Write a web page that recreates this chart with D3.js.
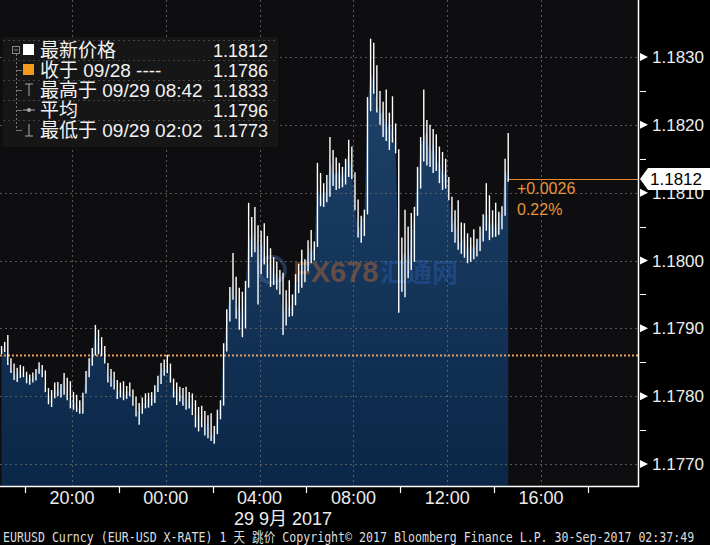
<!DOCTYPE html>
<html><head><meta charset="utf-8">
<script src="https://cdn.jsdelivr.net/npm/d3@7"></script>
<style>html,body{margin:0;padding:0;background:#000;}svg{display:block}</style>
</head><body><svg id="c" width="710" height="545"></svg>
<script>
// ---- data (EURUSD, 8-minute bars) ----
const high = [
1.17874,1.17880,1.17890,1.17856,1.17848,1.17842,1.17846,1.17844,1.17836,1.17832,
1.17835,1.17840,1.17850,1.17846,1.17838,1.17812,1.17809,1.17820,1.17821,1.17818,
1.17834,1.17827,1.17822,1.17806,1.17802,1.17794,1.17805,1.17837,1.17856,1.17871,
1.17905,1.17898,1.17887,1.17874,1.17849,1.17840,1.17836,1.17824,1.17820,1.17822,
1.17815,1.17820,1.17810,1.17799,1.17790,1.17798,1.17804,1.17805,1.17806,1.17816,
1.17830,1.17849,1.17854,1.17861,1.17848,1.17826,1.17820,1.17814,1.17812,1.17814,
1.17806,1.17804,1.17794,1.17784,1.17786,1.17778,1.17772,1.17775,1.17756,1.17780,
1.17794,1.17878,1.17928,1.17961,1.18011,1.17976,1.17960,1.17954,1.17970,1.18085,
1.18064,1.18079,1.18052,1.18044,1.18055,1.18036,1.18018,1.18005,1.17998,1.17986,
1.17982,1.17956,1.17971,1.17950,1.17980,1.17995,1.18016,1.18002,1.18030,1.18045,
1.18028,1.18144,1.18129,1.18114,1.18126,1.18182,1.18163,1.18152,1.18144,1.18138,
1.18150,1.18178,1.18168,1.18130,1.18090,1.18066,1.18075,1.18241,1.18327,1.18321,
1.18288,1.18250,1.18234,1.18252,1.18218,1.18242,1.18202,1.18164,1.18034,1.18075,
1.18050,1.18070,1.18079,1.18138,1.18182,1.18252,1.18207,1.18200,1.18194,1.18186,
1.18168,1.18160,1.18150,1.18123,1.18094,1.18074,1.18089,1.18056,1.18055,1.18040,
1.18034,1.18046,1.18032,1.18050,1.18068,1.18114,1.18096,1.18074,1.18085,1.18072,
1.18080,1.18150,1.18188];
const low = [
1.17862,1.17865,1.17846,1.17834,1.17824,1.17821,1.17827,1.17828,1.17819,1.17817,
1.17820,1.17823,1.17833,1.17828,1.17806,1.17788,1.17784,1.17797,1.17800,1.17798,
1.17802,1.17794,1.17782,1.17780,1.17777,1.17774,1.17774,1.17804,1.17828,1.17845,
1.17860,1.17862,1.17860,1.17848,1.17820,1.17814,1.17810,1.17796,1.17798,1.17794,
1.17796,1.17800,1.17786,1.17770,1.17758,1.17774,1.17782,1.17783,1.17786,1.17790,
1.17806,1.17818,1.17830,1.17834,1.17820,1.17798,1.17787,1.17792,1.17786,1.17780,
1.17782,1.17772,1.17754,1.17748,1.17754,1.17742,1.17738,1.17734,1.17730,1.17744,
1.17766,1.17786,1.17866,1.17910,1.17942,1.17914,1.17898,1.17887,1.17900,1.17960,
1.18005,1.18012,1.17935,1.17980,1.17994,1.17974,1.17961,1.17964,1.17957,1.17950,
1.17890,1.17904,1.17917,1.17918,1.17934,1.17952,1.17960,1.17968,1.17984,1.17996,
1.18000,1.18020,1.18080,1.18079,1.18086,1.18094,1.18110,1.18104,1.18106,1.18108,
1.18112,1.18123,1.18120,1.18074,1.18034,1.18026,1.18036,1.18068,1.18220,1.18246,
1.18218,1.18200,1.18182,1.18176,1.18163,1.18174,1.18158,1.17923,1.17954,1.17946,
1.17974,1.17986,1.17998,1.18066,1.18106,1.18146,1.18140,1.18138,1.18129,1.18132,
1.18114,1.18104,1.18106,1.18089,1.18042,1.18026,1.18016,1.18010,1.18004,1.17996,
1.17998,1.18002,1.18006,1.18014,1.18028,1.18044,1.18030,1.18034,1.18035,1.18038,
1.18046,1.18066,1.18116];
const close = [
1.17868,1.17872,1.17852,1.17840,1.17835,1.17830,1.17840,1.17832,1.17825,1.17828,
1.17824,1.17836,1.17844,1.17834,1.17810,1.17796,1.17798,1.17812,1.17806,1.17815,
1.17826,1.17800,1.17790,1.17794,1.17786,1.17780,1.17802,1.17830,1.17850,1.17866,
1.17892,1.17870,1.17866,1.17852,1.17826,1.17832,1.17816,1.17802,1.17814,1.17800,
1.17810,1.17804,1.17792,1.17776,1.17778,1.17792,1.17788,1.17800,1.17794,1.17810,
1.17826,1.17842,1.17836,1.17844,1.17824,1.17806,1.17812,1.17798,1.17804,1.17790,
1.17798,1.17776,1.17764,1.17776,1.17760,1.17750,1.17764,1.17740,1.17746,1.17774,
1.17788,1.17868,1.17920,1.17950,1.17970,1.17920,1.17940,1.17906,1.17962,1.18040,
1.18024,1.18050,1.18000,1.18034,1.18010,1.17986,1.18008,1.17970,1.17988,1.17960,
1.17910,1.17948,1.17926,1.17942,1.17972,1.17964,1.18006,1.17980,1.18022,1.18010,
1.18024,1.18110,1.18090,1.18104,1.18096,1.18150,1.18130,1.18124,1.18136,1.18116,
1.18142,1.18160,1.18130,1.18080,1.18042,1.18058,1.18068,1.18224,1.18280,1.18260,
1.18230,1.18214,1.18220,1.18190,1.18206,1.18186,1.18164,1.17990,1.18006,1.18012,
1.17994,1.18036,1.18070,1.18120,1.18168,1.18180,1.18192,1.18150,1.18176,1.18140,
1.18150,1.18120,1.18136,1.18096,1.18050,1.18064,1.18030,1.18024,1.18038,1.18010,
1.18026,1.18014,1.18028,1.18036,1.18056,1.18080,1.18046,1.18062,1.18044,1.18064,
1.18072,1.18136,1.18120];
const firstBar = Date.UTC(2017, 8, 28, 17, 0);
const barMinutes = 8;
const yTickValues = [1.1770, 1.1780, 1.1790, 1.1800, 1.1810, 1.1820, 1.1830];
const yMinorValues = [1.1775, 1.1785, 1.1795, 1.1805, 1.1815, 1.1825];
const xTickLabels = ["20:00", "00:00", "04:00", "08:00", "12:00", "16:00"];
const legendLabels = ["最新价格", "收于 09/28 ----", "最高于 09/29 08:42", "平均", "最低于 09/29 02:02"];
const legendValues = ["1.1812", "1.1786", "1.1833", "1.1796", "1.1773"];
const prevClose = 1.1786;
const lastPrice = 1.1812;
const changeText = "+0.0026";
const changePct = "0.22%";
const dateLabel = "29 9月 2017";
const footer = "EURUSD Curncy (EUR-USD X-RATE) 1 天  跳价 Copyright© 2017 Bloomberg Finance L.P. 30-Sep-2017 02:37:49";

// ---- layout ----
const W = 710, H = 545, plotR = 638, plotB = 486;
const svg = d3.select("#c");
const FONT = "'Liberation Sans', Arial, 'Noto Sans CJK SC', sans-serif";

const bars = high.map((h, i) => ({ t: new Date(firstBar + i * barMinutes * 60000), h, l: low[i], c: close[i] }));

const x = d3.scaleUtc()
  .domain([new Date(Date.UTC(2017, 8, 28, 16, 56)), new Date(Date.UTC(2017, 8, 29, 20, 8))])
  .range([0, plotR]);
const y = d3.scaleLinear().domain([1.1770, 1.1830]).range([464, 57]);

svg.append("rect").attr("width", W).attr("height", H).attr("fill", "#000");
svg.append("rect").attr("x", 0).attr("y", 0).attr("width", plotR).attr("height", plotB).attr("fill", "#0e0e10");

const defs = svg.append("defs");
const grad = defs.append("linearGradient").attr("id", "fillg")
  .attr("gradientUnits", "userSpaceOnUse").attr("x1", 0).attr("x2", 0).attr("y1", 40).attr("y2", plotB);
grad.append("stop").attr("offset", 0).attr("stop-color", "#1f446e");
grad.append("stop").attr("offset", 1).attr("stop-color", "#0b2747");

// area under close
const area = d3.area().x(d => x(d.t)).y0(plotB).y1(d => y(d.c));
svg.append("path").datum(bars).attr("d", area).attr("fill", "url(#fillg)");

// grid
const xTicks = x.ticks(d3.utcHour.every(4)).filter(d => xTickLabels.includes(d3.utcFormat("%H:%M")(d)) && x(d) < 600);
const grid = svg.append("g").attr("stroke", "#6a6a6a").attr("stroke-width", 1).attr("stroke-dasharray", "2,3").attr("opacity", 0.8);
grid.selectAll("line.h").data(yTickValues).join("line")
  .attr("x1", 0).attr("x2", plotR).attr("y1", d => Math.round(y(d)) + 0.5).attr("y2", d => Math.round(y(d)) + 0.5);
grid.selectAll("line.v").data(xTicks).join("line")
  .attr("y1", 0).attr("y2", plotB).attr("x1", d => Math.round(x(d)) + 0.5).attr("x2", d => Math.round(x(d)) + 0.5);

// watermark
const wm = svg.append("g").attr("opacity", 0.4);
wm.append("circle").attr("cx", 272).attr("cy", 270).attr("r", 13).attr("fill", "none").attr("stroke", "#4a6fb0").attr("stroke-width", 4);
wm.append("text").attr("x", 293).attr("y", 282).attr("font-family", FONT).attr("font-weight", "bold").attr("font-size", 29)
  .attr("fill", "#d9722a").text("FX678");
wm.append("text").attr("x", 380).attr("y", 282).attr("font-family", "'Noto Sans CJK SC', sans-serif").attr("font-weight", "bold").attr("font-size", 26)
  .attr("fill", "#2f62b8").text("汇通网");

// previous close dotted line
svg.append("line").attr("x1", 0).attr("x2", plotR).attr("y1", y(prevClose)).attr("y2", y(prevClose))
  .attr("stroke", "#e8a060").attr("stroke-width", 2).attr("stroke-dasharray", "2,2");

// bars
svg.append("g").attr("stroke", "#fff").attr("stroke-width", 1.4)
  .selectAll("line").data(bars).join("line")
  .attr("x1", d => x(d.t)).attr("x2", d => x(d.t))
  .attr("y1", d => y(d.h)).attr("y2", d => y(d.l));

// last price line
const lastX = x(bars[bars.length - 1].t);
svg.append("line").attr("x1", lastX + 1).attr("x2", plotR).attr("y1", Math.round(y(lastPrice)) + 0.5).attr("y2", Math.round(y(lastPrice)) + 0.5)
  .attr("stroke", "#e8892b").attr("stroke-width", 1.2);
svg.append("text").attr("x", 517).attr("y", y(lastPrice) + 15).attr("font-family", FONT).attr("font-size", 16)
  .attr("fill", "#e6953e").text(changeText);
svg.append("text").attr("x", 517).attr("y", y(lastPrice) + 36).attr("font-family", FONT).attr("font-size", 16)
  .attr("fill", "#e6953e").text(changePct);

// axes lines
svg.append("line").attr("x1", plotR + 0.5).attr("x2", plotR + 0.5).attr("y1", 0).attr("y2", plotB + 1).attr("stroke", "#fff").attr("stroke-width", 1.5);
svg.append("line").attr("x1", 0).attr("x2", plotR + 1).attr("y1", plotB + 0.5).attr("y2", plotB + 0.5).attr("stroke", "#fff").attr("stroke-width", 1.5);

// right axis ticks
const ya = svg.append("g");
ya.selectAll("path").data(yTickValues).join("path")
  .attr("d", d => { const v = y(d); return `M${plotR + 2},${v - 4}L${plotR + 10},${v}L${plotR + 2},${v + 4}Z`; })
  .attr("fill", "#fff");
ya.selectAll("line").data(yMinorValues).join("line")
  .attr("x1", plotR + 2).attr("x2", plotR + 8).attr("y1", d => Math.round(y(d)) + 0.5).attr("y2", d => Math.round(y(d)) + 0.5)
  .attr("stroke", "#fff").attr("stroke-width", 1);
ya.selectAll("text").data(yTickValues).join("text")
  .attr("x", plotR + 14).attr("y", d => y(d) + 6).attr("font-family", FONT).attr("font-size", 17)
  .attr("fill", "#ececec").text(d => d3.format(".4f")(d));

// bottom axis
const xa = svg.append("g");
const minorX = x.ticks(d3.utcHour.every(2)).filter(d => d.getUTCHours() % 4 === 2);
xa.selectAll("line").data(minorX).join("line")
  .attr("x1", d => Math.round(x(d)) + 0.5).attr("x2", d => Math.round(x(d)) + 0.5).attr("y1", plotB + 1).attr("y2", plotB + 7)
  .attr("stroke", "#fff").attr("stroke-width", 1.2);
xa.selectAll("text").data(xTicks).join("text")
  .attr("x", d => x(d)).attr("y", 504).attr("text-anchor", "middle").attr("font-family", FONT).attr("font-size", 18)
  .attr("fill", "#ececec").text(d => d3.utcFormat("%H:%M")(d));
svg.append("text").attr("x", 283).attr("y", 525).attr("text-anchor", "middle").attr("font-family", FONT).attr("font-size", 18)
  .attr("fill", "#ececec").text(dateLabel);

// last price tag (covers part of the 1.1810 label, as in the original)
const ly = y(lastPrice);
svg.append("path").attr("d", `M${plotR + 2},${ly}L${plotR + 10},${ly - 11}L${W},${ly - 11}L${W},${ly + 11}L${plotR + 10},${ly + 11}Z`).attr("fill", "#fff");
svg.append("text").attr("x", plotR + 12).attr("y", ly + 6).attr("font-family", FONT).attr("font-size", 17).attr("fill", "#000").text(d3.format(".4f")(lastPrice));

// legend
const lg = svg.append("g");
lg.append("rect").attr("x", 3).attr("y", 37).attr("width", 275).attr("height", 110).attr("fill", "#171717").attr("opacity", 0.95);
const rowY = [50, 70, 90, 110, 130];
lg.selectAll("line.sep").data([40, 60, 80, 100, 120]).join("line")
  .attr("x1", 3).attr("x2", 278).attr("y1", d => d + 0.5).attr("y2", d => d + 0.5)
  .attr("stroke", "#444").attr("stroke-dasharray", "2,3");
lg.append("line").attr("x1", 16.5).attr("x2", 16.5).attr("y1", 54).attr("y2", rowY[4]).attr("stroke", "#777").attr("stroke-dasharray", "2,2");
lg.selectAll("line.br").data(rowY.slice(1)).join("line")
  .attr("x1", 16).attr("x2", 22).attr("y1", d => d + 0.5).attr("y2", d => d + 0.5).attr("stroke", "#777");
lg.append("rect").attr("x", 12.5).attr("y", 46.5).attr("width", 7).attr("height", 7).attr("fill", "none").attr("stroke", "#888");
lg.append("line").attr("x1", 14).attr("x2", 18).attr("y1", 50).attr("y2", 50).attr("stroke", "#888");
lg.append("rect").attr("x", 23).attr("y", 44).attr("width", 11).attr("height", 11).attr("fill", "#fff");
lg.append("rect").attr("x", 23).attr("y", 64).attr("width", 11).attr("height", 11).attr("fill", "#f39a1e");
lg.append("path").attr("d", `M25,${rowY[2] - 6}H33M29,${rowY[2] - 6}V${rowY[2] + 6}`).attr("stroke", "#aaa").attr("fill", "none");
lg.append("path").attr("d", `M23,${rowY[3]}H35`).attr("stroke", "#aaa");
lg.append("circle").attr("cx", 29).attr("cy", rowY[3]).attr("r", 2).attr("fill", "#aaa");
lg.append("path").attr("d", `M25,${rowY[4] + 6}H33M29,${rowY[4] - 6}V${rowY[4] + 6}`).attr("stroke", "#aaa").attr("fill", "none");
lg.selectAll("text.lab").data(legendLabels).join("text")
  .attr("x", 40).attr("y", (d, i) => rowY[i] + 7).attr("font-family", FONT).attr("font-size", 19)
  .attr("fill", "#f2f2f2").text(d => d);
lg.selectAll("text.val").data(legendValues).join("text")
  .attr("x", 268).attr("y", (d, i) => rowY[i] + 7).attr("text-anchor", "end").attr("font-family", FONT).attr("font-size", 18)
  .attr("fill", "#f2f2f2").text(d => d);

// footer (monospace, sized to fit the width naturally, stretched vertically)
svg.append("text").attr("transform", "translate(3,542) scale(1,1.15)")
  .attr("font-family", "'DejaVu Sans Mono', 'Noto Sans CJK SC', monospace")
  .attr("font-size", 11.6).attr("fill", "#dcdcdc").text(footer);
</script></body></html>
